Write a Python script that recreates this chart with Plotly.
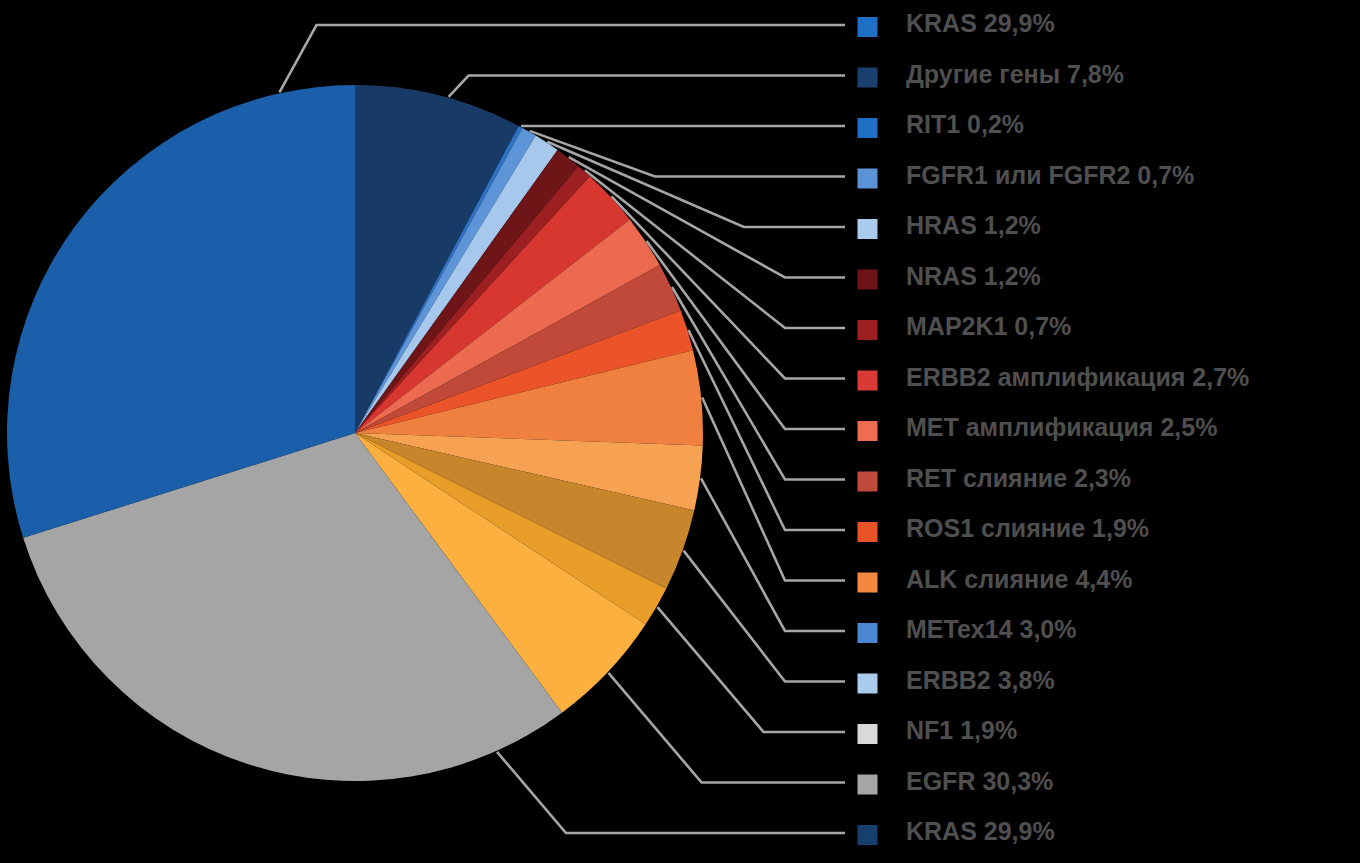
import math
import plotly.graph_objects as go

W, H = 1360, 863

# ---- data: pie slices, clockwise from 12 o'clock ----
slice_names = ["Другие гены", "RIT1", "FGFR1 или FGFR2", "HRAS", "NRAS", "MAP2K1",
               "ERBB2 амплификация", "MET амплификация", "RET слияние", "ROS1 слияние",
               "ALK слияние", "METex14", "ERBB2", "NF1", "EGFR (сегмент)", "EGFR", "KRAS"]
slice_values = [7.8, 0.2, 0.7, 1.2, 1.2, 0.7, 2.7, 2.5, 2.3, 1.9, 4.4, 3.0, 3.8, 1.9, 5.6, 30.3, 29.9]
slice_colors = ["#173b66", "#2d72c6", "#5d95d8", "#a6c8ec", "#6e1517", "#9c1f21",
                "#d8372f", "#ec6b50", "#c0493a", "#ea5428", "#f0803f", "#f7a252",
                "#c8862c", "#e99e29", "#fcb03f", "#a5a5a5", "#1b5fab"]

# ---- data: labels on the right (top to bottom) ----
label_texts = ["KRAS 29,9%", "Другие гены 7,8%", "RIT1 0,2%", "FGFR1 или FGFR2 0,7%",
               "HRAS 1,2%", "NRAS 1,2%", "MAP2K1 0,7%", "ERBB2 амплификация 2,7%",
               "MET амплификация 2,5%", "RET слияние 2,3%", "ROS1 слияние 1,9%",
               "ALK слияние 4,4%", "METex14 3,0%", "ERBB2 3,8%", "NF1 1,9%",
               "EGFR 30,3%", "KRAS 29,9%"]
label_slice = [16, 0, 1, 2, 3, 4, 5, 6, 7, 8, 9, 10, 11, 12, 13, 14, 15]
key_colors = ["#1f6fc5", "#1a3f6e", "#1f6fc5", "#5b93d6", "#a9cbec", "#6e1416",
              "#9b1e20", "#d93a35", "#ee6c52", "#c04a3a", "#ea5228", "#f2873f",
              "#4a86d2", "#a9cbec", "#d9d9d9", "#a5a5a5", "#173f6e"]

# ---- layout constants (pixels) ----
CX, CY, R = 355.0, 433.0, 348.0
LABEL_TOP, LABEL_STEP = 25.0, 50.5
LINE_END_X = 845.0
ELBOW_MAX_X = 785.0
KEY_X = 867.5
TEXT_X = 906.0

dom_x = [(CX - R) / W, (CX + R) / W]
dom_y = [(H - CY - R) / H, (H - CY + R) / H]

fig = go.Figure()
fig.add_trace(go.Pie(
    labels=slice_names, values=slice_values, sort=False, direction="clockwise",
    rotation=0, marker=dict(colors=slice_colors, line=dict(width=0)),
    textinfo="none", hoverinfo="label+value", showlegend=False,
    domain=dict(x=dom_x, y=dom_y),
))

# slice angular extents (degrees, clockwise from north)
total = sum(slice_values)
starts, ends = [], []
acc = 0.0
for v in slice_values:
    starts.append(acc / total * 360.0)
    acc += v
    ends.append(acc / total * 360.0)


def pt(theta, r=R):
    t = math.radians(theta)
    return CX + r * math.sin(t), CY - r * math.cos(t)


def circ_dist(a, b):
    d = abs(a - b) % 360
    return min(d, 360 - d)


lx, ly = [], []
label_ys = []
for i, s in enumerate(label_slice):
    y_lab = LABEL_TOP + LABEL_STEP * i
    label_ys.append(y_lab)
    a0, a1 = starts[s], ends[s]
    span = a1 - a0
    if span > 25:
        ldir = math.degrees(math.atan2(LINE_END_X - CX, CY - y_lab)) % 360
        if a0 <= ldir <= a1:
            th = min(max(ldir, a0 + 12.5), a1 - 12.5)
        elif circ_dist(ldir, a0) < circ_dist(ldir, a1):
            th = a0 + 12.5
        else:
            th = a1 - 12.5
    else:
        th = (a0 + a1) / 2
    xa, ya = pt(th, R + 1)
    dy = y_lab - ya
    if dy < 0:
        dx = max(20.0, 0.55 * -dy)
    else:
        dx = max(20.0, 0.85 * dy)
        if th < 82:
            slope = math.radians(max(th - 10, 5))
            dx = max(dx, dy / math.tan(slope))
    xe = min(ELBOW_MAX_X, xa + dx)
    lx += [xa, xe, LINE_END_X, None]
    ly += [ya, y_lab, y_lab, None]

fig.add_trace(go.Scatter(
    x=lx, y=ly, mode="lines", line=dict(color="#a6a6a6", width=2.6),
    hoverinfo="skip", showlegend=False,
))
fig.add_trace(go.Scatter(
    x=[KEY_X] * len(label_ys), y=[y + 2 for y in label_ys], mode="markers",
    marker=dict(symbol="square", size=20, color=key_colors, line=dict(width=0)),
    hoverinfo="skip", showlegend=False,
))
fig.add_trace(go.Scatter(
    x=[TEXT_X] * len(label_ys), y=[y + 1 for y in label_ys], mode="text", text=label_texts,
    textposition="middle right",
    textfont=dict(family="Liberation Sans, Arial, sans-serif", size=25,
                  color="#4f4f4f", weight="bold"),
    hoverinfo="skip", showlegend=False,
))

fig.update_layout(
    width=W, height=H, margin=dict(l=0, r=0, t=0, b=0),
    paper_bgcolor="#000000", plot_bgcolor="rgba(0,0,0,0)",
    xaxis=dict(range=[0, W], visible=False, fixedrange=True, domain=[0, 1]),
    yaxis=dict(range=[H, 0], visible=False, fixedrange=True, domain=[0, 1]),
    showlegend=False,
)

fig.write_html("out.html")
